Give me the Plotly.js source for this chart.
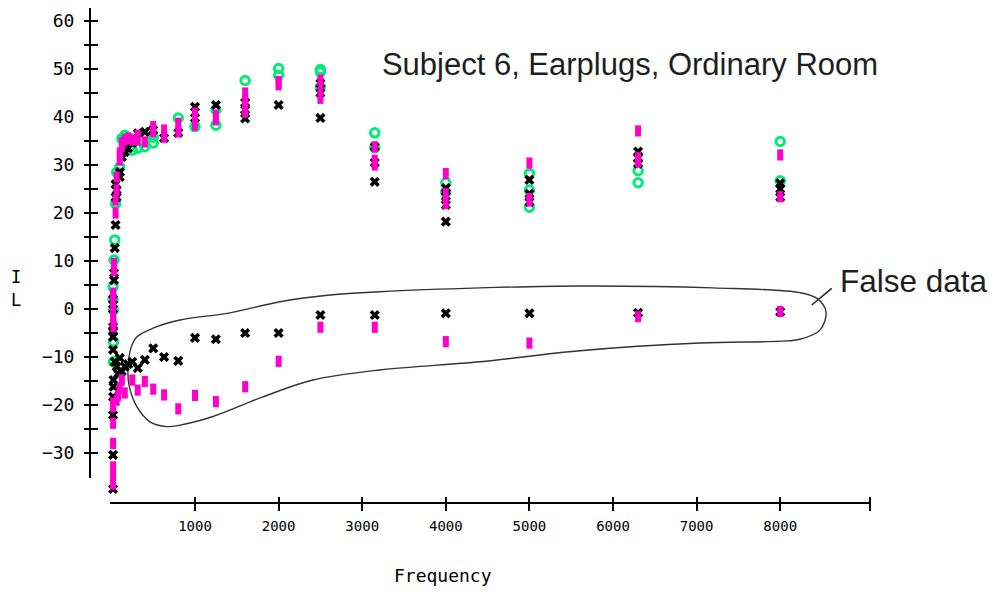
<!DOCTYPE html>
<html><head><meta charset="utf-8">
<script src="https://cdn.plot.ly/plotly-3.0.1.min.js"></script>
<style>html,body{margin:0;padding:0;background:#fff}#chart{width:997px;height:592px}</style>
</head><body><div id="chart"></div>
<script>
// Green circles
const greenF = [20, 20, 25, 25, 25, 31.5, 40, 50, 63, 100, 125, 160, 200, 250, 315, 400, 500, 500, 800,
  1000, 1250, 1250, 1600, 2000, 2000, 2500, 2500, 2500, 3150, 3150, 4000, 4000, 5000, 5000, 5000, 6300, 6300, 8000, 8000];
const greenIL = [4.6, 2.0, -0.2, -6.8, -11, 10.2, 14.4, 22, 28.5, 29.6, 35.5, 36.2, 35.8, 33.1, 33.5, 33.8, 35.8, 34.6, 39.8,
  38, 41.5, 38.3, 47.6, 50.1, 48.7, 49.9, 49.4, 46.2, 36.7, 33.6, 26.3, 24.3, 28.2, 24.8, 21.2, 28.8, 26.3, 34.9, 26.7];

// Magenta bars
const magentaF = [20, 20, 20, 20, 25, 25, 25,
  20, 20, 20, 20, 20, 20, 20,
  31.5, 31.5, 50, 50, 63, 63, 100, 100, 125, 125, 160, 200, 250, 315, 315, 400, 500, 500, 630, 630, 800, 800,
  1000, 1000, 1000, 1250, 1250, 1600, 1600, 1600, 1600, 2000, 2000, 2500, 2500, 2500, 3150, 3150, 3150,
  4000, 4000, 4000, 5000, 5000, 5000, 6300, 6300, 6300, 8000, 8000,
  63, 80, 100, 125, 160, 250, 315, 400, 500, 630, 800, 1000, 1250, 1600, 2000, 2500, 3150, 4000, 5000, 6300, 8000];
const magentaIL = [3.3, 1.5, 0, -1.5, 2.5, -2.5, -3.7,
  -19.6, -20.4, -23.8, -28, -32.9, -34.5, -36.5,
  9.5, 8, 20, 22.7, 27.5, 24.8, 32.5, 31, 34.6, 33.8, 35.2, 35.6, 35.2, 36.2, 35.2, 34.8, 38, 36.9, 37.3, 35.8, 38.7, 36.9,
  40.8, 39.5, 38.3, 40.4, 39.4, 45, 43.5, 42, 41, 47.4, 46.7, 47.7, 46, 43.9, 33.8, 31, 30,
  28.2, 24, 22, 30.4, 23, 22.5, 37.1, 31.5, 30.7, 32.1, 23.4,
  -19, -18, -16.5, -14.8, -17.5, -14.8, -16.9, -15.1, -16.7, -17.9, -20.8, -18, -19.3, -16.2, -10.9, -3.8, -3.8, -6.8, -7.1, -1.6, -0.5];

// Black crosses
const blackF = [20, 20, 20, 20, 20, 20, 25, 25, 20, 20, 20, 20,
  31.5, 31.5, 40, 50, 50, 50, 63, 63, 100, 100, 125, 125, 160, 160, 200, 250, 315, 400, 500, 630, 800,
  1000, 1000, 1250, 1600, 1600, 1600, 2000, 2500, 2500, 2500, 3150, 3150, 3150,
  4000, 4000, 4000, 4000, 5000, 5000, 5000, 6300, 6300, 6300, 8000, 8000, 8000,
  40, 63, 80, 100, 125, 160, 200, 250, 315, 400, 500, 630, 800, 1000, 1250, 1600, 2000, 2500, 3150, 4000, 5000, 6300, 8000];
const blackIL = [2, 0, -3.7, -4.5, -5.8, -8.5, -14.8, -16.2, -18.3, -22.1, -30.4, -37.5,
  7.5, 6, 12.7, 17.5, 23.3, 26, 24.8, 23.3, 28.5, 27.5, 32.5, 31.7, 33.5, 32.7, 33.5, 34.6, 36.6, 36.9, 37.3, 35.6, 36.7,
  42.1, 39.8, 42.5, 43, 41.5, 39.7, 42.5, 47, 45, 39.8, 33.8, 30.5, 26.5,
  25.2, 23.5, 21.7, 18.2, 26.9, 24, 22.3, 32.8, 31.5, 30.3, 26.2, 25, 23.3,
  -11, -12, -13.5, -10.2, -13, -12, -11.5, -11, -12.3, -10.6, -8.2, -10, -10.8, -6, -6.3, -5, -5, -1.25, -1.25, -0.9, -0.9, -0.8, -0.6];

// "False data" outline (annotation)
const outlineF = [199, 234, 306, 498, 821, 1419, 2017, 2615, 3213, 4409, 5605, 7196, 8237, 8440, 8548, 8475, 8237, 7998,
  7041, 5605, 4409, 3213, 2411, 1813, 1215, 821, 661, 462, 306, 210, 199];
const outlineIL = [-12.7, -8.1, -5.8, -4.0, -2.3, -0.8, 1.5, 2.9, 3.6, 4.4, 4.8, 4.4, 3.4, 2.2, -0.6, -4.4, -6.3, -6.7,
  -7.1, -8.7, -11.0, -12.7, -14.8, -18.3, -22.4, -24.2, -24.5, -23.5, -20.4, -15.8, -12.7];

const xTickVals = [1000, 2000, 3000, 4000, 5000, 6000, 7000, 8000, 9070];
const xTickText = ['1000', '2000', '3000', '4000', '5000', '6000', '7000', '8000', ''];
const yTickVals = [-30, -25, -20, -15, -10, -5, 0, 5, 10, 15, 20, 25, 30, 35, 40, 45, 50, 55, 60];
const yTickText = ['−30', '', '−20', '', '−10', '', '0', '', '10', '', '20', '', '30', '', '40', '', '50', '', '60'];

const GREEN = 'rgb(0,236,116)';
const MAGENTA = 'rgb(255,0,204)';
const MONO = 'DejaVu Sans Mono, monospace';
const SANS = 'Liberation Sans, Arial, sans-serif';

const traces = [
  {x: outlineF, y: outlineIL, mode: 'lines', line: {color: '#333', width: 1.4, shape: 'spline', smoothing: 1}, hoverinfo: 'skip'},
  {x: greenF, y: greenIL, mode: 'markers', marker: {symbol: 'circle-open', size: 8.5, color: GREEN, line: {width: 3, color: GREEN}}},
  {x: blackF, y: blackIL, mode: 'markers', marker: {symbol: 'x', size: 9, color: '#000', line: {width: 0}}},
  {x: magentaF, y: magentaIL, mode: 'markers', marker: {symbol: 'line-ns-open', size: 8, color: MAGENTA, line: {width: 6, color: MAGENTA}}}
];

const xr = [-256, 9074], yr = [-40.42, 62.71];

const layout = {
  width: 997, height: 592,
  margin: {l: 90, r: 127, t: 8, b: 89},
  paper_bgcolor: '#fff', plot_bgcolor: '#fff',
  showlegend: false,
  title: {text: 'Subject 6, Earplugs, Ordinary Room', x: 630/997, xanchor: 'center', xref: 'container',
    y: 1 - 64/592, yanchor: 'middle', yref: 'container', font: {family: SANS, size: 31, color: '#1e1e1e'}},
  // axis placed 7px inside the plot so 14px outside ticks cross the drawn axis line
  xaxis: {range: xr, anchor: 'free', position: 7/495, tickmode: 'array', tickvals: xTickVals, ticktext: xTickText,
    ticks: 'outside', ticklen: 14, tickwidth: 2, tickcolor: '#000', showgrid: false, zeroline: false, showline: false,
    tickfont: {family: MONO, size: 14, color: '#000'}, ticklabelstandoff: 3},
  yaxis: {range: yr, anchor: 'free', position: 8/780, tickmode: 'array', tickvals: yTickVals, ticktext: yTickText,
    ticks: 'outside', ticklen: 14, tickwidth: 2, tickcolor: '#000', showgrid: false, zeroline: false, showline: false,
    tickfont: {family: MONO, size: 18, color: '#000'}, ticklabelstandoff: 6},
  shapes: [
    {type: 'line', xref: 'x', yref: 'paper', x0: -17, x1: 9074, y0: 0, y1: 0, line: {color: '#000', width: 2}},
    {type: 'line', xref: 'paper', yref: 'y', x0: 0, x1: 0, y0: -35.2, y1: 62.71, line: {color: '#000', width: 2}},
    {type: 'line', xref: 'x', yref: 'y', x0: 8377, y0: 0.83, x1: 8616, y1: 4.3, line: {color: '#222', width: 1.5}}
  ],
  annotations: [
    {text: 'Frequency', xref: 'paper', yref: 'paper', x: (443-90)/780, y: (503-575)/495, xanchor: 'center', yanchor: 'middle',
      showarrow: false, font: {family: MONO, size: 18, color: '#000'}},
    {text: 'I', xref: 'paper', yref: 'paper', x: (16-90)/780, y: (503-277)/495, xanchor: 'center', yanchor: 'middle',
      showarrow: false, font: {family: MONO, size: 17, color: '#000'}},
    {text: 'L', xref: 'paper', yref: 'paper', x: (16-90)/780, y: (503-300)/495, xanchor: 'center', yanchor: 'middle',
      showarrow: false, font: {family: MONO, size: 17, color: '#000'}},
    {text: 'False data', xref: 'paper', yref: 'paper', x: (838-90)/780, y: (503-281)/495, xanchor: 'left', yanchor: 'middle',
      showarrow: false, font: {family: SANS, size: 31.5, color: '#1e1e1e'}}
  ]
};

Plotly.newPlot('chart', traces, layout, {displayModeBar: false, staticPlot: true});
</script>
</body></html>
